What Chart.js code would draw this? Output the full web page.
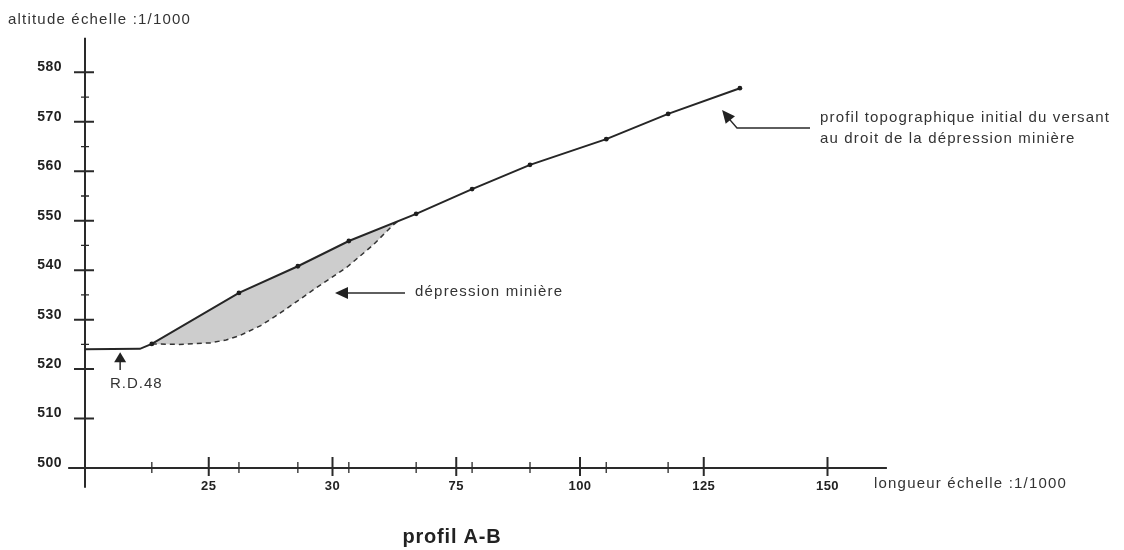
<!DOCTYPE html>
<html lang="fr">
<head>
<meta charset="utf-8">
<title>profil A-B</title>
<script src="https://cdn.jsdelivr.net/npm/chart.js@4.4.1/dist/chart.umd.min.js"></script>
<style>
  html, body { margin: 0; padding: 0; background: #fff; }
  #wrap { width: 1124px; height: 550px; }
</style>
</head>
<body>
<div id="wrap"><canvas id="profileChart" width="1124" height="550"></canvas></div>
<script>
const roadX = [0, 11.1];
const roadY = [524.0, 524.1];
const profileX = [13.5, 31.1, 43.0, 53.3, 66.9, 78.2, 89.9, 105.3, 117.8, 132.3];
const profileY = [525.1, 535.4, 540.8, 545.9, 551.4, 556.4, 561.3, 566.5, 571.6, 576.8];
// fond de la dépression minière (tirets)
const depressionX = [13.5, 19.0, 25.3, 28.5, 31.3, 35.5, 39.4, 46.1, 52.9, 58.2, 62.2, 63.4];
const depressionY = [525.1, 525.0, 525.3, 525.9, 526.8, 528.8, 531.3, 536.0, 540.6, 545.1, 549.1, 550.0];

// graduations
const yTicks = [500, 510, 520, 530, 540, 550, 560, 570, 580];
const yMinorTicks = [525, 535, 545, 555, 565, 575];
const xTicks = [25, 50, 75, 100, 125, 150];
const xTickLabels = ["25", "30", "75", "100", "125", "150"];
const xMinorTicks = [13.5, 31.1, 43.0, 53.3, 66.9, 78.2, 89.9, 105.3, 117.8];

document.addEventListener("DOMContentLoaded", function () {
  const ctx = document.getElementById("profileChart").getContext("2d");

  const toPoints = (xs, ys) => xs.map((v, i) => ({ x: v, y: ys[i] }));
  const profilePts = toPoints(roadX, roadY).concat(toPoints(profileX, profileY));
  const depressionPts = toPoints(depressionX, depressionY);

  // polygon for the grey area: bottom curve forward, then profile back
  const xStart = depressionX[0];
  const xEnd = depressionX[depressionX.length - 1];
  const upper = toPoints(profileX, profileY).filter(p => p.x > xStart && p.x < xEnd).reverse();
  const areaPts = depressionPts.concat(upper, [depressionPts[0]]);

  const TEXT = "#333";
  const FONT = '"Liberation Sans", Arial, sans-serif';

  function arrowHead(c, fx, fy, tx, ty, len, half) {
    const a = Math.atan2(ty - fy, tx - fx);
    c.beginPath();
    c.moveTo(tx, ty);
    c.lineTo(tx - len * Math.cos(a) + half * Math.sin(a), ty - len * Math.sin(a) - half * Math.cos(a));
    c.lineTo(tx - len * Math.cos(a) - half * Math.sin(a), ty - len * Math.sin(a) + half * Math.cos(a));
    c.closePath();
    c.fill();
  }

  function text(c, str, x, y, font, align, spacing) {
    c.font = font;
    c.textAlign = align || "left";
    c.textBaseline = "middle";
    c.letterSpacing = spacing || "0px";
    c.fillText(str, x, y);
  }

  // hand drawn axes crossing at (0, 500)
  const axesPlugin = {
    id: "axesPlugin",
    beforeDatasetsDraw(chart) {
      const c = chart.ctx;
      const sx = chart.scales.x, sy = chart.scales.y;
      const px = v => sx.getPixelForValue(v);
      const py = v => sy.getPixelForValue(v);
      const x0 = px(0), y0 = py(500);
      c.save();
      c.strokeStyle = "#2a2a2a";
      c.lineWidth = 2;
      c.beginPath();
      c.moveTo(px(-3.4), y0); c.lineTo(px(162), y0);
      c.moveTo(x0, py(496)); c.lineTo(x0, py(587));
      c.stroke();

      c.beginPath();
      yTicks.forEach(v => { if (v !== 500) { c.moveTo(x0 - 11, py(v)); c.lineTo(x0 + 9, py(v)); } });
      xTicks.forEach(v => { c.moveTo(px(v), y0 - 11); c.lineTo(px(v), y0 + 8); });
      c.stroke();
      c.lineWidth = 1.3;
      c.beginPath();
      yMinorTicks.forEach(v => { c.moveTo(x0 - 4, py(v)); c.lineTo(x0 + 4, py(v)); });
      xMinorTicks.forEach(v => { c.moveTo(px(v), y0 - 6); c.lineTo(px(v), y0 + 5); });
      c.stroke();

      c.fillStyle = "#222";
      yTicks.forEach(v => text(c, String(v), 62, py(v) - 5, "bold 14px " + FONT, "right", "0.5px"));
      xTicks.forEach((v, i) => text(c, xTickLabels[i], px(v), y0 + 18, "bold 13px " + FONT, "center", "0.5px"));
      c.restore();
    },
    afterDatasetsDraw(chart) {
      const c = chart.ctx;
      const sx = chart.scales.x, sy = chart.scales.y;
      const px = v => sx.getPixelForValue(v);
      const py = v => sy.getPixelForValue(v);
      c.save();
      c.fillStyle = TEXT;
      c.strokeStyle = "#2a2a2a";
      c.lineWidth = 1.5;

      text(c, "altitude échelle :1/1000", 8, 20, "15px " + FONT, "left", "1.2px");
      text(c, "longueur échelle :1/1000", 874, 484, "15px " + FONT, "left", "1.2px");
      c.fillStyle = "#222";
      text(c, "profil A-B", 452, 537, "bold 20px " + FONT, "center", "0.8px");
      c.fillStyle = TEXT;

      // R.D.48
      c.beginPath();
      c.moveTo(px(7.1), py(519.8)); c.lineTo(px(7.1), py(522));
      c.stroke();
      c.fillStyle = "#222";
      arrowHead(c, px(7.1), py(519.8), px(7.1), py(523.4), 10, 6);
      c.fillStyle = TEXT;
      text(c, "R.D.48", 110, 384, "15px " + FONT, "left", "1px");

      // dépression minière
      c.beginPath();
      c.moveTo(405, py(535.4)); c.lineTo(px(51.5), py(535.4));
      c.stroke();
      c.fillStyle = "#222";
      arrowHead(c, 405, py(535.4), px(50.5), py(535.4), 13, 6);
      c.fillStyle = TEXT;
      text(c, "dépression minière", 415, 292, "15px " + FONT, "left", "1.2px");

      // profil initial
      c.beginPath();
      c.moveTo(810, 128); c.lineTo(737, 128); c.lineTo(px(129.6), py(571.2));
      c.stroke();
      c.fillStyle = "#222";
      arrowHead(c, 737, 128, px(128.7), py(572.4), 13, 6);
      c.fillStyle = TEXT;
      text(c, "profil topographique initial du versant", 820, 118, "15px " + FONT, "left", "1.15px");
      text(c, "au droit de la dépression minière", 820, 139, "15px " + FONT, "left", "1.15px");
      c.restore();
    }
  };

  new Chart(ctx, {
    type: "scatter",
    data: {
      datasets: [
        {
          label: "profil topographique initial",
          data: profilePts,
          showLine: true,
          borderColor: "#262626",
          borderWidth: 2,
          pointRadius: profilePts.map((p, i) => (i < roadX.length ? 0 : 2.4)),
          pointBackgroundColor: "#1e1e1e",
          pointBorderWidth: 0,
          clip: false
        },
        {
          label: "dépression minière",
          data: depressionPts,
          showLine: true,
          borderColor: "#333",
          borderWidth: 1.5,
          borderDash: [5, 4],
          pointRadius: 0,
          clip: false
        },
        {
          label: "zone",
          data: areaPts,
          showLine: true,
          borderWidth: 0,
          borderColor: "rgba(0,0,0,0)",
          backgroundColor: "#cdcdcd",
          fill: "shape",
          pointRadius: 0,
          clip: false
        }
      ]
    },
    options: {
      responsive: false,
      animation: false,
      events: [],
      layout: { padding: { left: 60.25, right: 172.75, top: 22.9, bottom: 52.3 } },
      scales: {
        x: { type: "linear", min: -5, max: 175, display: false },
        y: { type: "linear", min: 494, max: 590, display: false }
      },
      plugins: {
        legend: { display: false },
        tooltip: { enabled: false },
        title: { display: false }
      }
    },
    plugins: [axesPlugin]
  });
});
</script>
</body>
</html>
